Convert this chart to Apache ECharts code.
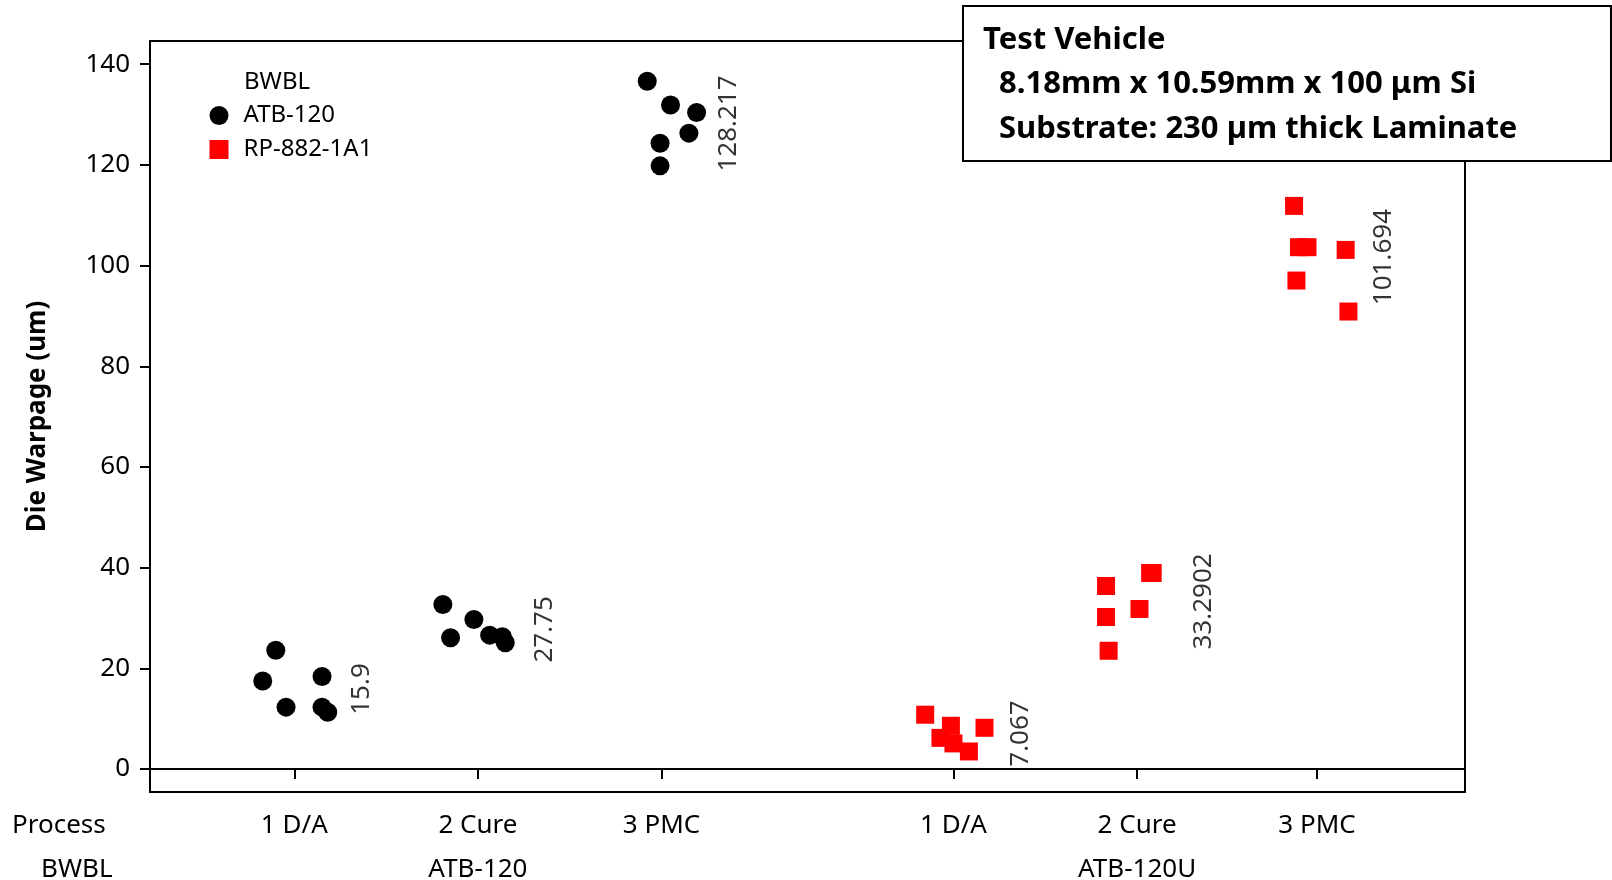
<!DOCTYPE html>
<html>
<head>
<meta charset="utf-8">
<title>Die Warpage by Process Step</title>
<script src="https://cdn.jsdelivr.net/npm/echarts@6/dist/echarts.min.js"></script>
<style>
  html, body { margin: 0; padding: 0; background: #ffffff; }
  #chart { width: 1612px; height: 880px; }
</style>
</head>
<body>
<div id="chart"></div>
<script>
// Category labels
const processSteps = ['1 D/A', '2 Cure', '3 PMC'];
const bwblGroups = ['ATB-120', 'ATB-120U'];
const legendNames = ['ATB-120', 'RP-882-1A1'];
const yTickValues = [0, 20, 40, 60, 80, 100, 120, 140];

// Die warpage (um), six dies per process step
const atb120DA   = [23.6, 17.5, 18.4, 12.3, 12.3, 11.3];
const atb120Cure = [32.7, 26.1, 29.7, 26.6, 26.3, 25.1];
const atb120PMC  = [136.6, 131.9, 130.4, 126.3, 124.3, 119.8];
const rp882DA    = [10.8, 8.6, 6.2, 5.1, 3.5, 8.2];
const rp882Cure  = [36.36, 30.2, 23.5, 31.8, 38.94, 38.94];
const rp882PMC   = [111.85, 103.65, 103.65, 103.11, 97.03, 90.874];

// Group means printed beside each cluster (ATB-120 steps, then ATB-120U steps)
const groupMeans = [15.9, 27.75, 128.217, 7.067, 33.2902, 101.694];

// Horizontal jitter of the individual values (x units)
const jitterAtbDA   = [-0.101, -0.172, 0.151, -0.045, 0.151, 0.182];
const jitterAtbCure = [-0.191, -0.149, -0.022, 0.064, 0.133, 0.149];
const jitterAtbPMC  = [-0.078, 0.049, 0.191, 0.149, -0.008, -0.008];
const jitterRpDA    = [-0.154, -0.014, -0.071, 0, 0.084, 0.169];
const jitterRpCure  = [-0.169, -0.169, -0.155, 0.013, 0.071, 0.085];
const jitterRpPMC   = [-0.125, -0.098, -0.052, 0.156, -0.112, 0.171];

// x position of each process step within the two BWBL groups
const groupCenters = [[1, 2, 3], [4.59, 5.59, 6.57]];
const tickPositions = groupCenters.flat();
const groupLabelPositions = groupCenters.map(g => g[1]);
const meanLabelShift = 0.365;

function points(center, values, jitter) {
  return values.map((v, i) => [center + jitter[i], v]);
}

const atbPoints = [].concat(
  points(groupCenters[0][0], atb120DA, jitterAtbDA),
  points(groupCenters[0][1], atb120Cure, jitterAtbCure),
  points(groupCenters[0][2], atb120PMC, jitterAtbPMC)
);
const rpPoints = [].concat(
  points(groupCenters[1][0], rp882DA, jitterRpDA),
  points(groupCenters[1][1], rp882Cure, jitterRpCure),
  points(groupCenters[1][2], rp882PMC, jitterRpPMC)
);
const meanPoints = tickPositions.map((p, i) => ({
  value: [p + meanLabelShift, groupMeans[i]],
  labelText: String(groupMeans[i])
}));

function nearestIndex(list, v) {
  let best = 0;
  list.forEach((p, i) => { if (Math.abs(p - v) < Math.abs(list[best] - v)) best = i; });
  return best;
}

const FONT = '"Noto Sans", "DejaVu Sans", sans-serif';
const chart = echarts.init(document.getElementById('chart'), null, { renderer: 'canvas' });

chart.setOption({
  animation: false,
  backgroundColor: '#ffffff',
  textStyle: { fontFamily: FONT, color: '#000' },
  grid: {
    left: 150, right: 147, top: 41, bottom: 88,
    containLabel: false,
    outerBoundsMode: 'none',
    show: true,
    borderColor: '#000',
    borderWidth: 2,
    backgroundColor: 'transparent'
  },
  legend: {
    orient: 'vertical',
    left: 209.5,
    top: 103.5,
    padding: 0,
    itemWidth: 19,
    itemHeight: 19,
    itemGap: 10,
    data: legendNames,
    textStyle: { fontSize: 24, color: '#000', fontFamily: FONT, padding: [0, 0, 0, 10] }
  },
  xAxis: [
    {
      type: 'value',
      min: 0.214,
      max: 7.376,
      splitLine: { show: false },
      axisLine: { show: true, lineStyle: { color: '#000', width: 2 } },
      axisTick: { show: true, length: 10, lineStyle: { color: '#000', width: 2 }, customValues: tickPositions },
      axisLabel: {
        show: true,
        customValues: tickPositions,
        margin: 21,
        fontSize: 26,
        color: '#000',
        formatter: v => processSteps[nearestIndex(tickPositions, v) % processSteps.length]
      }
    },
    {
      type: 'value',
      min: 0.214,
      max: 7.376,
      position: 'bottom',
      splitLine: { show: false },
      axisLine: { show: false },
      axisTick: { show: false },
      axisLabel: {
        show: true,
        customValues: groupLabelPositions,
        margin: 65,
        fontSize: 26,
        color: '#000',
        formatter: v => bwblGroups[nearestIndex(groupLabelPositions, v)]
      }
    }
  ],
  yAxis: {
    type: 'value',
    min: -4.55,
    max: 144.6,
    name: 'Die Warpage (um)',
    nameLocation: 'middle',
    nameGap: 99,
    nameTextStyle: { fontSize: 26, fontWeight: 'bold', color: '#000', fontFamily: FONT },
    splitLine: { show: false },
    axisLine: { show: true, lineStyle: { color: '#000', width: 2 } },
    axisTick: { show: true, length: 10, lineStyle: { color: '#000', width: 2 }, customValues: yTickValues },
    axisLabel: { customValues: yTickValues, margin: 20, fontSize: 26, color: '#000' }
  },
  series: [
    {
      name: legendNames[0],
      type: 'scatter',
      symbol: 'circle',
      symbolSize: 19,
      itemStyle: { color: '#000000', opacity: 1 },
      data: atbPoints,
      z: 3
    },
    {
      name: legendNames[1],
      type: 'scatter',
      symbol: 'rect',
      symbolSize: 18,
      itemStyle: { color: '#ff0000', opacity: 1 },
      data: rpPoints,
      z: 3
    },
    {
      name: 'means',
      type: 'scatter',
      symbolSize: 0,
      silent: true,
      data: meanPoints,
      label: {
        show: true,
        position: 'inside',
        rotate: 90,
        fontSize: 26,
        color: '#000',
        fontFamily: FONT,
        formatter: p => p.data.labelText
      },
      z: 4
    }
  ],
  graphic: [
    {
      type: 'text',
      left: 12,
      top: 813,
      style: { text: 'Process', font: '26px ' + FONT, fill: '#000' }
    },
    {
      type: 'text',
      left: 41,
      top: 857,
      style: { text: 'BWBL', font: '26px ' + FONT, fill: '#000' }
    },
    {
      type: 'text',
      left: 244,
      top: 70,
      style: { text: 'BWBL', font: '24px ' + FONT, fill: '#000' }
    },
    {
      type: 'group',
      left: 962,
      top: 5,
      z: 100,
      children: [
        {
          type: 'rect',
          shape: { x: 0, y: 0, width: 648, height: 155 },
          style: { fill: '#ffffff', stroke: '#000', lineWidth: 2 }
        },
        {
          type: 'text',
          x: 20, y: 34,
          style: { text: 'Test Vehicle', font: 'bold 31px ' + FONT, fill: '#000', textVerticalAlign: 'middle' }
        },
        {
          type: 'text',
          x: 36, y: 78,
          style: { text: '8.18mm x 10.59mm x 100 μm Si', font: 'bold 31px ' + FONT, fill: '#000', textVerticalAlign: 'middle' }
        },
        {
          type: 'text',
          x: 36, y: 123,
          style: { text: 'Substrate: 230 µm thick Laminate', font: 'bold 31px ' + FONT, fill: '#000', textVerticalAlign: 'middle' }
        }
      ]
    }
  ]
});
</script>
</body>
</html>
